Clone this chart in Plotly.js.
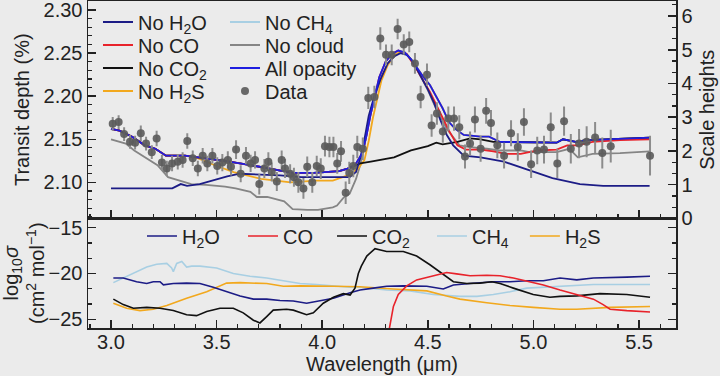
<!DOCTYPE html>
<html>
<head>
<meta charset="utf-8">
<script src="https://cdn.plot.ly/plotly-3.0.1.min.js"></script>
<style>html,body{margin:0;padding:0;background:#ebebeb;}</style>
</head>
<body>
<div id="chart" style="width:720px;height:376px;"></div>
<script>
// ---------- Observed transit spectrum ----------
const dataWl = [3.008,3.036,3.062,3.090,3.114,3.141,3.166,3.193,3.216,3.241,
  3.264,3.289,3.316,3.339,3.361,3.387,3.411,3.434,3.456,3.480,
  3.503,3.527,3.553,3.568,3.592,3.614,3.639,3.661,3.682,3.702,
  3.726,3.745,3.761,3.785,3.808,3.824,3.848,3.866,3.887,3.911,
  3.929,3.953,3.974,3.993,4.013,4.034,4.053,4.071,4.089,4.111,
  4.128,4.147,4.166,4.192,4.218,4.247,4.275,4.302,4.329,4.357,
  4.386,4.412,4.439,4.466,4.496,4.518,4.543,4.571,4.597,4.624,
  4.649,4.676,4.700,4.723,4.750,4.776,4.799,4.829,4.861,4.894,
  4.926,4.955,4.989,5.018,5.050,5.082,5.113,5.145,5.177,5.216,
  5.252,5.292,5.326,5.366,5.552];
const dataDepth = [2.168,2.170,2.156,2.147,2.146,2.157,2.145,2.135,2.151,2.123,
  2.116,2.122,2.124,2.126,2.148,2.128,2.116,2.131,2.122,2.131,
  2.119,2.123,2.126,2.118,2.138,2.110,2.131,2.122,2.126,2.098,
  2.116,2.124,2.112,2.101,2.126,2.116,2.110,2.106,2.100,2.093,
  2.118,2.100,2.119,2.116,2.142,2.141,2.141,2.122,2.136,2.088,
  2.111,2.119,2.141,2.139,2.198,2.199,2.267,2.248,2.248,2.278,
  2.260,2.263,2.238,2.199,2.225,2.166,2.180,2.159,2.174,2.174,
  2.164,2.130,2.145,2.173,2.139,2.183,2.169,2.143,2.131,2.157,
  2.141,2.170,2.121,2.137,2.138,2.164,2.122,2.171,2.139,2.145,
  2.147,2.152,2.134,2.142,2.131];
const dataErr = [0.008,0.008,0.008,0.008,0.008,0.009,0.008,0.008,0.009,0.009,
  0.009,0.009,0.009,0.009,0.009,0.009,0.009,0.009,0.009,0.009,
  0.010,0.010,0.010,0.010,0.011,0.010,0.010,0.010,0.010,0.012,
  0.011,0.011,0.011,0.011,0.011,0.011,0.011,0.011,0.012,0.012,
  0.012,0.012,0.012,0.012,0.012,0.012,0.012,0.012,0.012,0.013,
  0.013,0.013,0.013,0.013,0.013,0.013,0.013,0.012,0.012,0.012,
  0.012,0.012,0.012,0.013,0.013,0.013,0.013,0.013,0.014,0.014,
  0.014,0.014,0.014,0.015,0.015,0.015,0.015,0.015,0.015,0.015,
  0.016,0.016,0.016,0.016,0.016,0.017,0.017,0.017,0.017,0.017,
  0.018,0.018,0.018,0.019,0.023];

// ---------- Model spectra (transit depth, %) ----------
const allWl = [3.00,3.04,3.10,3.16,3.21,3.26,3.35,3.45,3.56,3.66,3.75,3.86,3.96,4.08,4.12,4.155,4.19,4.21,4.23,4.25,4.27,4.30,4.33,4.36,4.39,4.42,4.45,4.48,4.51,4.54,4.57,4.60,4.63,4.67,4.75,4.79,4.84,5.11,5.14,5.20,5.25,5.55];
const allDepth = [2.162,2.160,2.153,2.143,2.139,2.131,2.131,2.128,2.124,2.120,2.116,2.111,2.111,2.113,2.116,2.120,2.134,2.155,2.180,2.203,2.222,2.240,2.249,2.253,2.251,2.243,2.232,2.222,2.213,2.200,2.186,2.170,2.162,2.155,2.153,2.153,2.147,2.146,2.150,2.147,2.149,2.152];

const noCh4Wl = allWl;
const noCh4Depth = allDepth;

const noCo2Wl = [3.00,3.04,3.10,3.16,3.21,3.26,3.35,3.45,3.56,3.66,3.75,3.86,3.96,4.08,4.12,4.155,4.18,4.23,4.27,4.34,4.42,4.50,4.54,4.57,4.64,4.70,4.75,4.81,4.84,5.11,5.14,5.20,5.25,5.55];
const noCo2Depth = [2.162,2.160,2.153,2.143,2.139,2.131,2.131,2.128,2.124,2.120,2.116,2.111,2.111,2.113,2.116,2.120,2.122,2.124,2.126,2.129,2.137,2.142,2.146,2.144,2.147,2.151,2.150,2.147,2.147,2.146,2.150,2.147,2.149,2.152];

const noH2oWl = [3.00,3.10,3.20,3.29,3.33,3.36,3.42,3.48,3.55,3.61,3.70,3.80,3.90,4.00,4.13,4.16,4.18,4.20,4.22,4.25,4.28,4.31,4.34,4.37,4.40,4.43,4.46,4.50,4.53,4.56,4.59,4.62,4.67,4.75,4.86,4.98,5.09,5.22,5.33,5.55];
const noH2oDepth = [2.093,2.093,2.093,2.093,2.098,2.096,2.098,2.102,2.107,2.110,2.109,2.108,2.106,2.106,2.106,2.112,2.128,2.150,2.177,2.203,2.222,2.238,2.246,2.250,2.248,2.240,2.227,2.208,2.192,2.172,2.155,2.143,2.131,2.129,2.124,2.114,2.105,2.098,2.096,2.096];

const noH2sWl = [3.00,3.04,3.10,3.16,3.21,3.26,3.35,3.41,3.48,3.58,3.71,3.85,3.97,4.05,4.12,4.15,4.17,4.20,4.22,4.24,4.26,4.28,4.31,4.34,4.37,4.39,4.42,4.45,4.48,4.51,4.54,4.57,4.60,4.63,4.67,4.75,4.79,4.84,5.11,5.14,5.20,5.25,5.55];
const noH2sDepth = [2.162,2.160,2.153,2.143,2.139,2.131,2.131,2.128,2.121,2.112,2.104,2.100,2.102,2.102,2.108,2.113,2.116,2.126,2.148,2.175,2.198,2.218,2.236,2.247,2.252,2.251,2.243,2.232,2.222,2.213,2.200,2.186,2.170,2.162,2.155,2.153,2.153,2.147,2.146,2.150,2.147,2.149,2.152];

const noCloudWl = [3.00,3.04,3.07,3.11,3.16,3.22,3.27,3.32,3.38,3.45,3.54,3.59,3.66,3.69,3.74,3.82,3.86,3.93,3.98,4.05,4.07,4.10,4.13,4.16,4.18,4.20,4.22,4.25,4.28,4.31,4.34,4.37,4.40,4.43,4.46,4.50,4.54,4.59,4.65,4.70,4.78,4.84,4.94,4.98,5.11,5.17,5.21,5.28,5.41,5.55];
const noCloudDepth = [2.150,2.147,2.145,2.137,2.129,2.120,2.106,2.102,2.098,2.097,2.095,2.093,2.089,2.083,2.083,2.078,2.069,2.068,2.068,2.071,2.073,2.082,2.087,2.104,2.120,2.142,2.170,2.200,2.222,2.238,2.247,2.251,2.249,2.240,2.226,2.207,2.185,2.162,2.143,2.141,2.139,2.137,2.137,2.135,2.135,2.139,2.129,2.133,2.134,2.136];

const noCoWl = [3.00,3.04,3.10,3.16,3.21,3.26,3.35,3.45,3.56,3.66,3.75,3.86,3.96,4.08,4.12,4.155,4.19,4.21,4.23,4.25,4.27,4.30,4.33,4.36,4.40,4.45,4.48,4.51,4.53,4.57,4.60,4.64,4.68,4.75,4.81,4.87,4.94,5.02,5.11,5.16,5.21,5.28,5.41,5.55];
const noCoDepth = [2.162,2.160,2.153,2.143,2.139,2.131,2.131,2.128,2.124,2.120,2.116,2.111,2.111,2.113,2.116,2.120,2.134,2.155,2.180,2.203,2.222,2.240,2.249,2.253,2.249,2.230,2.218,2.205,2.195,2.176,2.160,2.143,2.138,2.138,2.136,2.133,2.133,2.137,2.138,2.143,2.143,2.147,2.149,2.150];

// ---------- Cross sections (log10 sigma) ----------
const xsH2oWl = [3.011,3.058,3.121,3.169,3.200,3.232,3.248,3.295,3.358,3.421,3.484,3.547,3.611,3.674,3.737,3.800,3.863,3.926,3.990,4.053,4.132,4.179,4.242,4.305,4.384,4.495,4.573,4.621,4.700,4.810,4.889,4.968,5.047,5.126,5.205,5.284,5.442,5.552];
const xsH2o = [-20.5,-20.5,-20.9,-21.1,-20.9,-20.9,-21.25,-21.1,-21.05,-21.1,-21.5,-22.0,-22.45,-22.8,-22.8,-22.95,-23.0,-23.25,-22.95,-22.7,-22.1,-21.8,-21.6,-21.4,-21.35,-21.4,-21.7,-21.25,-21.1,-20.9,-20.9,-20.8,-20.8,-20.5,-20.7,-20.5,-20.4,-20.3];

const xsCoWl = [4.310,4.318,4.337,4.360,4.400,4.447,4.495,4.542,4.589,4.636,4.700,4.779,4.842,4.905,4.968,5.047,5.126,5.205,5.284,5.330,5.363,5.442,5.552];
const xsCo = [-27,-26,-23.6,-22.3,-21.35,-20.7,-20.45,-20.15,-19.9,-20.05,-20.25,-20.2,-20.25,-20.5,-20.8,-21.25,-21.8,-22.3,-22.8,-23.4,-23.9,-24.05,-24.2];

const xsCo2Wl = [3.011,3.058,3.106,3.169,3.232,3.295,3.358,3.405,3.453,3.516,3.579,3.626,3.674,3.705,3.737,3.768,3.831,3.863,3.926,3.958,4.005,4.053,4.100,4.132,4.155,4.171,4.185,4.211,4.250,4.305,4.384,4.447,4.510,4.573,4.621,4.684,4.747,4.803,4.842,4.905,4.999,5.078,5.126,5.205,5.315,5.442,5.552];
const xsCo2 = [-22.8,-23.4,-23.8,-23.7,-23.8,-24.05,-24.5,-24.6,-24.15,-23.8,-23.8,-24.3,-25.1,-25.4,-24.7,-24.0,-23.9,-24.0,-24.5,-24.3,-23.25,-22.6,-22.2,-22.35,-21.6,-20.0,-19.2,-18.1,-17.3,-17.6,-17.6,-18.1,-19.05,-20.1,-20.9,-21.1,-21.05,-20.9,-21.1,-21.6,-22.3,-22.6,-22.5,-22.45,-22.2,-22.3,-22.6];

const xsCh4Wl = [3.011,3.058,3.106,3.169,3.216,3.264,3.287,3.295,3.311,3.335,3.358,3.382,3.421,3.500,3.579,3.658,3.737,3.816,3.895,3.974,4.053,4.132,4.179,4.305,4.416,4.526,4.652,4.732,4.810,4.889,4.968,5.047,5.126,5.284,5.442,5.552];
const xsCh4 = [-21.0,-20.5,-19.96,-19.3,-19.0,-18.9,-19.4,-19.8,-18.9,-18.7,-19.3,-19.2,-19.2,-19.4,-20.0,-20.3,-20.5,-20.8,-21.1,-21.2,-21.35,-21.5,-21.5,-21.8,-21.9,-22.3,-22.5,-22.5,-22.3,-22.0,-21.6,-21.5,-21.4,-21.2,-21.2,-21.2];

const xsH2sWl = [3.011,3.074,3.137,3.200,3.264,3.358,3.453,3.547,3.611,3.737,3.816,3.895,4.053,4.179,4.337,4.495,4.589,4.652,4.779,4.889,4.999,5.126,5.205,5.284,5.363,5.552];
const xsH2s = [-23.25,-23.8,-24.05,-23.9,-23.5,-22.7,-22.0,-21.05,-21.0,-21.1,-21.4,-21.35,-21.4,-21.45,-21.7,-21.9,-22.45,-22.8,-23.2,-23.5,-23.7,-23.9,-23.9,-23.8,-23.7,-23.6];

// ---------- Styles ----------
const C = {h2o:'#1c1c86', co:'#e8232b', co2:'#111111', h2s:'#f2a81d', ch4:'#a8cfe3', cloud:'#858585', all:'#1e1ee0', data:'#5a5a5a'};
const FONT = 'Liberation Sans, Arial, Helvetica, sans-serif';
const INK = '#222';

function line(x, y, name, color, legend, axes, w) {
  return {type:'scatter', mode:'lines', x:x, y:y, name:name, legend:legend,
    xaxis:axes[0], yaxis:axes[1], line:{color:color, width:w||1.8}, hoverinfo:'skip'};
}
const AX_TOP = ['x','y'], AX_BOT = ['x2','y2'];

const traces = [
  line(noCh4Wl, noCh4Depth, 'No CH<sub>4</sub>', C.ch4, 'legend2', AX_TOP),
  line(noCloudWl, noCloudDepth, 'No cloud', C.cloud, 'legend4', AX_TOP),
  line(noH2sWl, noH2sDepth, 'No H<sub>2</sub>S', C.h2s, 'legend7', AX_TOP),
  line(noCo2Wl, noCo2Depth, 'No CO<sub>2</sub>', C.co2, 'legend5', AX_TOP),
  line(noCoWl, noCoDepth, 'No CO', C.co, 'legend3', AX_TOP),
  line(noH2oWl, noH2oDepth, 'No H<sub>2</sub>O', C.h2o, 'legend', AX_TOP),
  line(allWl, allDepth, 'All opacity', C.all, 'legend6', AX_TOP),
  {type:'scatter', mode:'markers', x:dataWl, y:dataDepth, name:'Data', legend:'legend8',
   xaxis:'x', yaxis:'y', hoverinfo:'skip',
   marker:{color:C.data, size:8, opacity:0.9},
   error_y:{type:'data', array:dataErr, visible:true, color:'#8c8c8c', thickness:2, width:0}},
  {type:'scatter', mode:'lines', x:[], y:[], xaxis:'x', yaxis:'y3', showlegend:false, hoverinfo:'skip'},
  line(xsCh4Wl, xsCh4, 'CH<sub>4</sub>', C.ch4, 'legend12', AX_BOT, 1.6),
  line(xsH2sWl, xsH2s, 'H<sub>2</sub>S', C.h2s, 'legend13', AX_BOT, 1.6),
  line(xsH2oWl, xsH2o, 'H<sub>2</sub>O', C.h2o, 'legend9', AX_BOT, 1.6),
  line(xsCo2Wl, xsCo2, 'CO<sub>2</sub>', C.co2, 'legend11', AX_BOT, 1.6),
  line(xsCoWl, xsCo, 'CO', C.co, 'legend10', AX_BOT, 1.6)
];

function leg(x, y) {
  return {x:x, y:y, xanchor:'left', yanchor:'middle', orientation:'v', visible:true,
    bgcolor:'rgba(0,0,0,0)', borderwidth:0, font:{family:FONT, size:20, color:INK}, itemwidth:30};
}
const ax = {showgrid:false, zeroline:false, showline:true, linecolor:INK, linewidth:1.5,
  ticks:'inside', tickcolor:INK, tickwidth:1.5, ticklen:8, ticklabeloverflow:'allow',
  tickfont:{family:FONT, size:20, color:INK}};
const xr = [2.891, 5.675];

const layout = {
  width:720, height:376,
  showlegend:true,
  paper_bgcolor:'#ebebeb', plot_bgcolor:'#ebebeb',
  margin:{l:88, r:44, t:1, b:48, pad:0},
  font:{family:FONT, size:20, color:INK},
  xaxis:Object.assign({}, ax, {domain:[0,1], anchor:'y', range:xr, dtick:0.5, tick0:3,
    showticklabels:false, mirror:true,
    minor:{dtick:0.1, ticks:'inside', ticklen:4, tickcolor:INK, tickwidth:1.2}}),
  yaxis:Object.assign({}, ax, {domain:[0.335,1], anchor:'x', range:[2.0581,2.3105],
    dtick:0.05, tick0:2.1, tickformat:'.2f',
    minor:{dtick:0.01, ticks:'inside', ticklen:4, tickcolor:INK, tickwidth:1.2},
    title:{text:'Transit depth (%)', font:{family:FONT, size:20, color:INK}, standoff:8}}),
  yaxis3:Object.assign({}, ax, {overlaying:'y', side:'right', anchor:'x', range:[0,6.445],
    dtick:1, tick0:0,
    minor:{dtick:1/3, ticks:'inside', ticklen:4, tickcolor:INK, tickwidth:1.2},
    title:{text:'Scale heights', font:{family:FONT, size:20, color:INK}, standoff:8}}),
  xaxis2:Object.assign({}, ax, {domain:[0,1], anchor:'y2', range:xr, dtick:0.5, tick0:3,
    tickformat:'.1f', mirror:true, ticklabelstandoff:-5,
    minor:{dtick:0.1, ticks:'inside', ticklen:4, tickcolor:INK, tickwidth:1.2},
    title:{text:'Wavelength (μm)', font:{family:FONT, size:20, color:INK}, standoff:0}}),
  yaxis2:Object.assign({}, ax, {domain:[0,0.335], anchor:'x2', range:[-25.95,-14.0],
    dtick:5, tick0:-15, mirror:'ticks',
    minor:{dtick:5/3, ticks:'inside', ticklen:4, tickcolor:INK, tickwidth:1.2},
    title:{text:'log<sub>10</sub><i>σ</i><br>(cm<sup>2</sup> mol<sup>−1</sup>)', font:{family:FONT, size:20, color:INK}, standoff:6}}),
  legend: leg(0.017, 0.9358),
  legend3: leg(0.017, 0.8654),
  legend5: leg(0.017, 0.7951),
  legend7: leg(0.017, 0.7248),
  legend2: leg(0.233, 0.9358),
  legend4: leg(0.233, 0.8654),
  legend6: leg(0.233, 0.7951),
  legend8: leg(0.233, 0.7248),
  legend9: leg(0.0918, 0.2813),
  legend10: leg(0.2636, 0.2813),
  legend11: leg(0.415, 0.2813),
  legend12: leg(0.585, 0.2813),
  legend13: leg(0.743, 0.2813)
};

Plotly.newPlot('chart', traces, layout, {displayModeBar:false, staticPlot:true});
</script>
</body>
</html>
